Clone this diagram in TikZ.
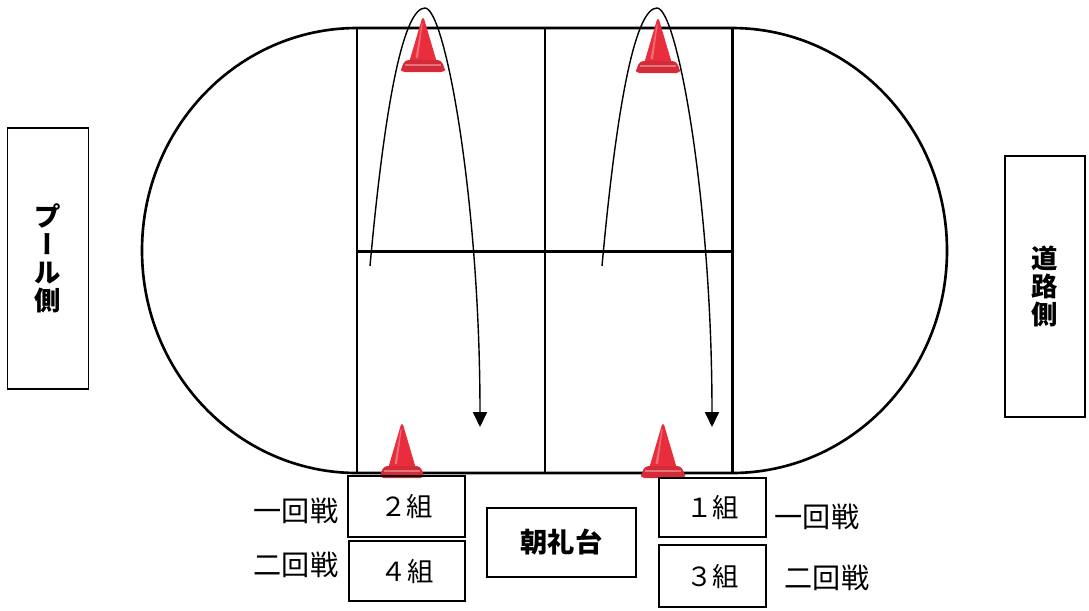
\documentclass[tikz,border=0pt]{standalone}
\usepackage{fontspec}
\setmainfont{Noto Sans CJK JP}
\usepackage{tikz}
\usetikzlibrary{arrows.meta}
\definecolor{conered}{RGB}{232,46,60}
\tikzset{
	side box/.style={draw,line width=1.1pt,minimum width=1.62cm,minimum height=5.22cm,
		align=center,font=\fontsize{15}{16}\selectfont\bfseries},
	team box/.style={draw,line width=1.1pt,font=\fontsize{15}{18}\selectfont},
	round label/.style={font=\fontsize{16}{18}\selectfont,inner sep=0pt},
	run/.style={->,line width=0.8pt},
	cone/.pic={
		\fill[conered] (-13.5,43) -- (-1.3,1.5) .. controls (0,-0.8) .. (1.3,1.5) -- (13.5,43) -- cycle;
		\fill[white,opacity=0.3] (-1.5,6) -- (-0.3,5) -- (-5,40) -- (-7.5,40) -- cycle;
		\fill[conered!92!black,rounded corners=2pt] (-18,42) -- (18,42) -- (22,51) -- (22,54) -- (-22,54) -- (-22,51) -- cycle;
		\draw[white,opacity=0.35,line width=0.6pt] (-18,47) -- (18,47);
	}
}

\begin{document}
\begin{tikzpicture}[x=0.02cm,y=-0.02cm,>={Triangle[width=8pt,length=8.5pt]}]
\useasboundingbox (0,0) rectangle (1089,610);
% track and field
\draw[line width=1.5pt] (357,28) -- (732,28)
	arc[start angle=-90,end angle=90,x radius=215,y radius=222.5]
	-- (357,473) arc[start angle=90,end angle=270,x radius=215,y radius=222.5] -- cycle;
\draw[line width=1.7pt] (357,28) -- (357,473) (545,28) -- (545,473) (732,28) -- (732,473)
	(357,251) -- (732,251);
% cones
\foreach \cx/\cy in {423/18, 658/19, 402/424, 663/424}
	\pic at (\cx,\cy) {cone};
% runs
\foreach \dx/\n in {0/1, 232/2}{
	\coordinate (start\n) at (370+\dx,266);
	\coordinate (turn\n) at (425+\dx,8);
	\coordinate (goal\n) at (480+\dx,427);
	\draw[run] (start\n) .. controls (386+\dx,90) and (405+\dx,8) .. (turn\n)
		.. controls (445+\dx,8) and (480+\dx,200) .. (goal\n);
}
% sides
\node[side box] (pool) at (48,258.5) {プ\\{\addfontfeature{RawFeature=+vert}ー}\\ル\\側};
\node[side box,minimum width=1.6cm] (road) at (1045,286.5) {道\\路\\側};
% stage and teams
\node[team box,minimum width=2.98cm,minimum height=1.38cm,font=\fontsize{15.5}{18}\selectfont\bfseries] (stage) at (561.5,542.5) {朝礼台};
\node[team box,minimum width=2.34cm,minimum height=1.22cm] (team2) at (406.5,506.5) {２組};
\node[team box,minimum width=2.32cm,minimum height=1.2cm] (team4) at (407,571) {４組};
\node[team box,minimum width=2.14cm,minimum height=1.18cm] (team1) at (712.5,507.5) {１組};
\node[team box,minimum width=2.14cm,minimum height=1.24cm] (team3) at (712.5,576) {３組};
\node[round label] (first l) at (296,511) {一回戦};
\node[round label] (second l) at (296,565) {二回戦};
\node[round label] (first r) at (817,517) {一回戦};
\node[round label] (second r) at (827,578) {二回戦};
\end{tikzpicture}
\end{document}
